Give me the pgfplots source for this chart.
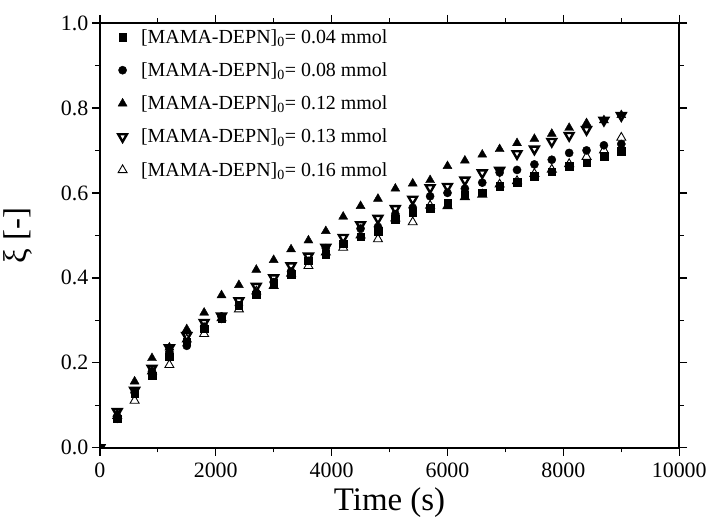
\documentclass[border=0pt]{standalone}
\usepackage{fontspec}
\setmainfont{Liberation Serif}
\usepackage{pgfplots}
\pgfplotsset{compat=1.18}

% conversion xi vs time, one table per initial MAMA-DEPN amount
\pgfplotstableread{
t xi
0 0
300 0.068
600 0.127
900 0.170
1200 0.214
1500 0.250
1800 0.280
2100 0.305
2400 0.335
2700 0.360
3000 0.388
3300 0.408
3600 0.440
3900 0.455
4200 0.480
4500 0.497
4800 0.510
5100 0.538
5400 0.554
5700 0.564
6000 0.575
6300 0.594
6600 0.600
6900 0.616
7200 0.625
7500 0.639
7800 0.650
8100 0.663
8400 0.671
8700 0.686
9000 0.698
}\sqA
\pgfplotstableread{
t xi
0 0
300 0.068
600 0.130
900 0.180
1200 0.225
1500 0.240
1800 0.285
2100 0.309
2400 0.335
2700 0.365
3000 0.390
3300 0.415
3600 0.440
3900 0.470
4200 0.480
4500 0.516
4800 0.520
5100 0.550
5400 0.565
5700 0.592
6000 0.600
6300 0.610
6600 0.624
6900 0.648
7200 0.654
7500 0.667
7800 0.678
8100 0.694
8400 0.700
8700 0.712
9000 0.715
}\ciB
\pgfplotstableread{
t xi
0 0
300 0.080
600 0.156
900 0.211
1200 0.236
1500 0.279
1800 0.318
2100 0.359
2400 0.383
2700 0.419
3000 0.442
3300 0.467
3600 0.488
3900 0.510
4200 0.544
4500 0.569
4800 0.586
5100 0.610
5400 0.622
5700 0.630
6000 0.663
6300 0.676
6600 0.690
6900 0.703
7200 0.717
7500 0.727
7800 0.739
8100 0.753
8400 0.764
8700 0.771
9000 0.783
}\trC
\pgfplotstableread{
t xi
0 0
300 0.085
600 0.135
900 0.187
1200 0.235
1500 0.264
1800 0.295
2100 0.310
2400 0.346
2700 0.380
3000 0.400
3300 0.428
3600 0.451
3900 0.472
4200 0.495
4500 0.525
4800 0.540
5100 0.563
5400 0.585
5700 0.612
6000 0.615
6300 0.630
6600 0.647
6900 0.653
7200 0.692
7500 0.703
7800 0.721
8100 0.735
8400 0.749
8700 0.771
9000 0.782
}\dtD
\pgfplotstableread{
t xi
0 0
300 0.075
600 0.111
900 0.180
1200 0.195
1500 0.255
1800 0.268
2100 0.305
2400 0.326
2700 0.368
3000 0.381
3300 0.410
3600 0.428
3900 0.460
4200 0.471
4500 0.500
4800 0.491
5100 0.540
5400 0.531
5700 0.570
6000 0.569
6300 0.590
6600 0.596
6900 0.620
7200 0.628
7500 0.645
7800 0.655
8100 0.668
8400 0.685
8700 0.700
9000 0.730
}\otE

\begin{document}
\begin{tikzpicture}
\begin{axis}[
  width=581pt, height=426pt, scale only axis,
  xmin=0, xmax=10000, ymin=0, ymax=1.0,
  xtick={0,2000,...,10000}, ytick={0,0.2,0.4,0.6,0.8,1.0},
  minor x tick num=1, minor y tick num=1,
  tick align=outside, major tick length=8pt, minor tick length=4.5pt,
  axis line style={line width=1.6pt},
  every tick/.style={black, line width=1.4pt},
  scaled x ticks=false,
  xticklabel style={/pgf/number format/1000 sep={}, yshift=-4pt},
  yticklabel style={/pgf/number format/.cd, fixed, fixed zerofill, precision=1},
  /pgf/number format/assume math mode=true,
  tick label style={font=\fontsize{22}{24}\selectfont},
  xlabel={Time (s)}, ylabel={ξ [-]},
  label style={font=\fontsize{33}{36}\selectfont},
  ylabel style={yshift=22pt},
  xlabel style={yshift=-3pt},
  clip marker paths=true,
  legend style={draw=none, fill=none, at={(0.026,0.995)}, anchor=north west,
    font=\fontsize{20}{22}\selectfont, row sep=14pt, column sep=12pt},
  legend cell align=left,
]
\addplot[only marks, mark=square*, mark size=3.8pt, black] table[x=t, y=xi] {\sqA};
\addlegendentry{[MAMA-DEPN]\textsubscript{0}= 0.04 mmol}
\addplot[only marks, mark=*, mark size=4.1pt, black] table[x=t, y=xi] {\ciB};
\addlegendentry{[MAMA-DEPN]\textsubscript{0}= 0.08 mmol}
\addplot[only marks, mark=triangle*, mark size=5.2pt, black] table[x=t, y=xi] {\trC};
\addlegendentry{[MAMA-DEPN]\textsubscript{0}= 0.12 mmol}
\addplot[only marks, mark=triangle, mark size=5pt, black, mark options={rotate=180, fill=white, line width=2.4pt}] table[x=t, y=xi] {\dtD};
\addlegendentry{[MAMA-DEPN]\textsubscript{0}= 0.13 mmol}
\addplot[only marks, mark=triangle, mark size=5.2pt, black, mark options={fill=white, line width=0.9pt}] table[x=t, y=xi] {\otE};
\addlegendentry{[MAMA-DEPN]\textsubscript{0}= 0.16 mmol}
\end{axis}
\path ([yshift=23pt]current axis.north);
\end{tikzpicture}
\end{document}
